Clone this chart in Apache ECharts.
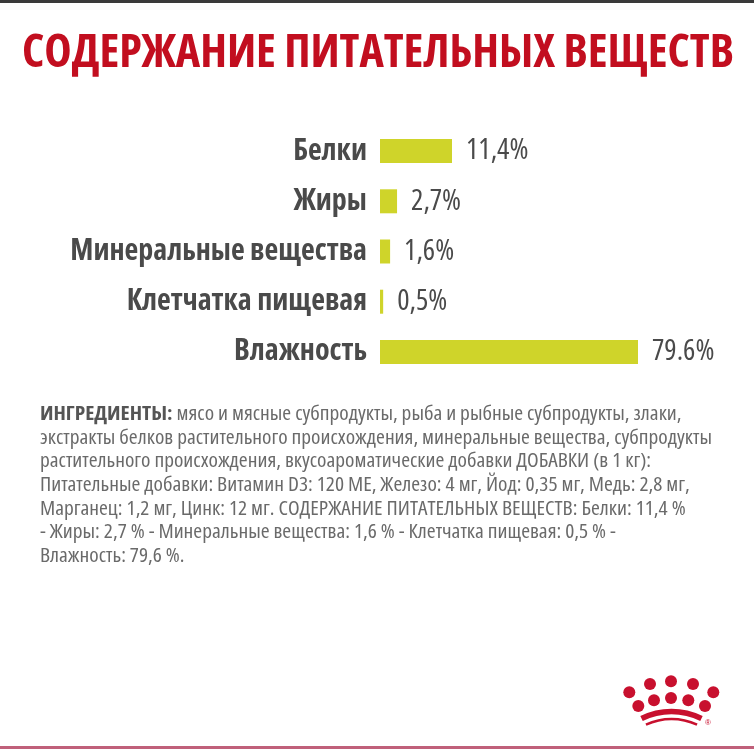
<!DOCTYPE html>
<html>
<head>
<meta charset="utf-8">
<script src="https://cdn.jsdelivr.net/npm/echarts@6/dist/echarts.min.js"></script>
<style>
html,body{margin:0;padding:0;background:#fff;}
#chart{width:754px;height:749px;}
</style>
</head>
<body>
<div id="chart"></div>
<script>
// ---- data ----
const categories = ['Белки', 'Жиры', 'Минеральные вещества', 'Клетчатка пищевая', 'Влажность'];
const values = [11.4, 2.7, 1.6, 0.5, 79.6];
const valueLabels = ['11,4%', '2,7%', '1,6%', '0,5%', '79.6%'];
const titleText = 'СОДЕРЖАНИЕ ПИТАТЕЛЬНЫХ ВЕЩЕСТВ';
const ingredientLines = [
  '{b|ИНГРЕДИЕНТЫ:} мясо и мясные субпродукты, рыба и рыбные субпродукты, злаки,',
  'экстракты белков растительного происхождения, минеральные вещества, субпродукты',
  'растительного происхождения, вкусоароматические добавки ДОБАВКИ (в 1 кг):',
  'Питательные добавки: Витамин D3: 120 МЕ, Железо: 4 мг, Йод: 0,35 мг, Медь: 2,8 мг,',
  'Марганец: 1,2 мг, Цинк: 12 мг. СОДЕРЖАНИЕ ПИТАТЕЛЬНЫХ ВЕЩЕСТВ: Белки: 11,4 %',
  '- Жиры: 2,7 % - Минеральные вещества: 1,6 % - Клетчатка пищевая: 0,5 % -',
  'Влажность: 79,6 %.'
];

const FONT = "'Open Sans', 'DejaVu Sans Condensed', sans-serif";
const STRETCH = 'condensed';
const RED = '#c20e1f';
const LOGO = '#c8102e';

function measure(font, text) {
  const c = document.createElement('canvas').getContext('2d');
  c.font = font;
  return c.measureText(text).width;
}
const TITLE_SIZE = 47;
const titleScale = 712 / measure(STRETCH + ' bold ' + TITLE_SIZE + 'px ' + FONT, titleText);
const PARA_SIZE = 19;
const paraScale = 672 / measure(STRETCH + ' normal ' + PARA_SIZE + 'px ' + FONT, ingredientLines[1]);

const chart = echarts.init(document.getElementById('chart'), null, {renderer: 'canvas'});

// crown logo
const dots = [[629.3,692.3],[650,684],[671,681.3],[693,684],[713.3,692.3],
              [638.3,706],[654,700.3],[671,698],[688.3,700.3],[705,706]];
const logo = dots.map(d => ({type:'circle', shape:{cx:d[0], cy:d[1], r:6}, style:{fill:LOGO}, silent:true}));
logo.push({type:'arc', shape:{cx:671.5, cy:779, r:67.5, startAngle:-Math.PI/2-0.46, endAngle:-Math.PI/2+0.46, clockwise:true},
  style:{stroke:LOGO, lineWidth:5.5, fill:null}, silent:true});
logo.push({type:'arc', shape:{cx:671.5, cy:779, r:60, startAngle:-Math.PI/2-0.44, endAngle:-Math.PI/2+0.44, clockwise:true},
  style:{stroke:LOGO, lineWidth:2.5, fill:null}, silent:true});
logo.push({type:'text', x:705, y:719, style:{text:'®', fontSize:8, fill:LOGO}, silent:true});

chart.setOption({
  backgroundColor: '#ffffff',
  animation: false,
  grid: {left: 380, width: 258, top: 126, height: 251, containLabel: false, outerBoundsMode: 'none'},
  xAxis: {
    type: 'value', min: 0, max: 79.6,
    breaks: [{start: 20, end: 58.75, gap: 0}],
    breakArea: {show: false},
    show: false
  },
  yAxis: {
    type: 'category', data: categories, inverse: true,
    axisLine: {show: false}, axisTick: {show: false}, splitLine: {show: false},
    axisLabel: {margin: 13, fontFamily: FONT, fontStyle: STRETCH, fontWeight: 'bold', fontSize: 30, color: '#4a4a4a'}
  },
  series: [{
    type: 'bar', data: values, barWidth: 24,
    itemStyle: {color: '#cfd42a'},
    label: {show: true, position: 'right', distance: 14,
      formatter: p => valueLabels[p.dataIndex],
      fontFamily: FONT, fontStyle: STRETCH, fontWeight: 500, fontSize: 29, color: '#4a4a4a'}
  }],
  graphic: [
    {type:'rect', shape:{x:0, y:0, width:754, height:3}, style:{fill:'#3a3a3a'}, silent:true},
    {type:'rect', shape:{x:0, y:746, width:754, height:3}, style:{fill:'#c0607a'}, silent:true},
    {type:'text', x:22, y:54, scaleX: titleScale, silent:true,
      style:{text: titleText, fontFamily: FONT, fontStyle: STRETCH, fontWeight:'bold', fontSize: TITLE_SIZE,
        fill: RED, verticalAlign:'middle'}},
    {type:'text', x:40, y:403, scaleX: paraScale, silent:true,
      style:{text: ingredientLines.join('\n'), fontFamily: FONT, fontStyle: STRETCH, fontSize: PARA_SIZE, lineHeight: 23.6, fill:'#6a6a6a',
        rich:{b:{fontFamily: FONT, fontStyle: STRETCH, fontSize: PARA_SIZE, fontWeight:'bold', fill:'#555555', lineHeight: 23.6}}}}
  ].concat(logo)
});
</script>
</body>
</html>
